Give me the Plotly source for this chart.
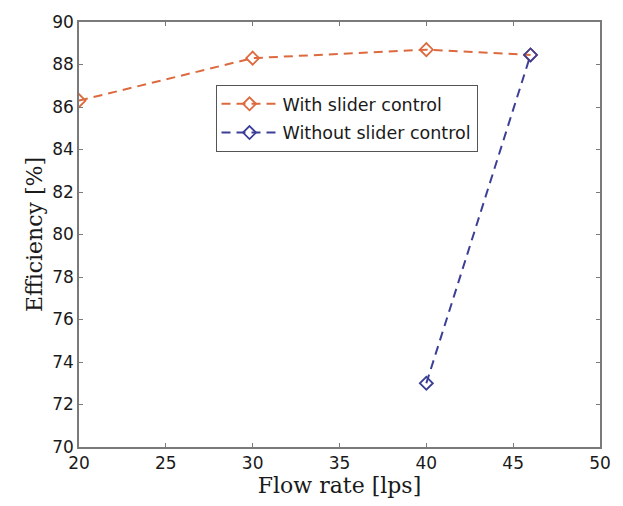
import plotly.graph_objects as go

# Pump efficiency vs flow rate, with and without slider control
flow_with = [20, 30, 40, 46]
eff_with = [86.3, 88.3, 88.7, 88.45]
flow_without = [40, 46]
eff_without = [73.0, 88.45]

x_ticks = [20, 25, 30, 35, 40, 45, 50]
y_ticks = [70, 72, 74, 76, 78, 80, 82, 84, 86, 88, 90]

orange = "#DC6A3E"
blue = "#3D3F96"

fig = go.Figure()
fig.add_trace(go.Scatter(
    x=flow_with, y=eff_with, mode="lines+markers", name="With slider control",
    legendgroup="with",
    line=dict(color=orange, width=2, dash="9px,6px"),
    marker=dict(symbol="diamond-open", size=10, color=orange, line=dict(width=1.8)),
))
fig.add_trace(go.Scatter(
    x=flow_without, y=eff_without, mode="lines+markers", name="Without slider control",
    legendgroup="without",
    line=dict(color=blue, width=2, dash="9px,6px"),
    marker=dict(symbol="diamond-open", size=10, color=blue, line=dict(width=1.8)),
))

title_font = dict(family="DejaVu Serif", size=22, color="#1a1a1a")
axis_common = dict(
    showgrid=False, zeroline=False, showline=True, linecolor="#7a7a7a", linewidth=1.5,
    mirror="ticks", ticks="inside", ticklen=4, tickcolor="#7a7a7a",
    tickfont=dict(family="DejaVu Sans", size=17, color="#1a1a1a"),
)

fig.update_layout(
    width=623, height=506,
    margin=dict(l=79, r=21, t=16, b=59),
    paper_bgcolor="white", plot_bgcolor="white",
    xaxis=dict(range=[20, 50], tickvals=x_ticks,
               title=dict(text="Flow rate [lps]", standoff=0, font=title_font),
               **axis_common),
    yaxis=dict(range=[70, 90], tickvals=y_ticks,
               title=dict(text="Efficiency [%]", standoff=4, font=title_font),
               **axis_common),
    legend=dict(x=0.262, y=0.852, xanchor="left", yanchor="top",
                bgcolor="white", bordercolor="#555555", borderwidth=1,
                font=dict(family="DejaVu Sans", size=17.5, color="#1a1a1a"),
                tracegroupgap=3, itemwidth=56),
    showlegend=True,
)

fig.write_html("out.html")
